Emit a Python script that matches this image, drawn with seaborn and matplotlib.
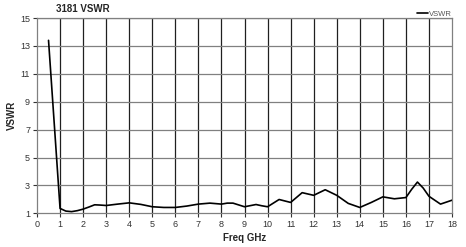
import matplotlib
matplotlib.use("Agg")
import matplotlib.pyplot as plt
import seaborn as sns
import pandas as pd

freq_ghz = [0.5, 1.0, 1.25, 1.5, 1.75, 2.0, 2.25, 2.5, 2.75, 3.0, 3.5, 4.0, 4.5, 5.0, 5.5,
            6.0, 6.5, 7.0, 7.5, 8.0, 8.25, 8.5, 9.0, 9.5, 9.75, 10.0, 10.5, 11.0, 11.5,
            12.0, 12.5, 13.0, 13.5, 14.0, 14.5, 15.0, 15.5, 16.0, 16.25, 16.5, 16.75,
            17.0, 17.5, 18.0]
vswr = [13.4, 1.35, 1.16, 1.12, 1.19, 1.3, 1.45, 1.61, 1.59, 1.56, 1.66, 1.75, 1.64, 1.47, 1.42,
        1.42, 1.52, 1.66, 1.73, 1.66, 1.73, 1.73, 1.47, 1.63, 1.54, 1.47, 1.99, 1.78, 2.48,
        2.29, 2.69, 2.29, 1.71, 1.42, 1.78, 2.18, 2.04, 2.13, 2.72, 3.24, 2.81,
        2.22, 1.66, 1.94]
x_ticks = list(range(0, 19))
y_ticks = [1, 3, 5, 7, 9, 11, 13, 15]

df = pd.DataFrame({"Freq GHz": freq_ghz, "VSWR": vswr})

sns.set_theme(style="white")
plt.rcParams['font.family'] = ['Liberation Sans', 'DejaVu Sans']

fig = plt.figure(figsize=(4.66, 2.47), dpi=100)
ax = fig.add_axes([0.0794, 0.1364, 0.8906, 0.7906])

for x in x_ticks[1:-1]:
    ax.axvline(x, color="#202020", lw=0.9, zorder=1)
for y in y_ticks[1:]:
    ax.axhline(y, color="#808080", lw=0.9, zorder=1)

sns.lineplot(data=df, x="Freq GHz", y="VSWR", ax=ax, color="black", lw=1.2,
             label="VSWR", zorder=3)

ax.set_xlim(0, 18)
ax.set_ylim(1, 15)
ax.set_xticks(x_ticks)
ax.set_yticks(y_ticks)
ax.tick_params(axis="both", labelsize=6.5, colors="#333333", length=3, width=0.8,
               direction="out", pad=2)
ax.tick_params(axis="both", which="both", bottom=True, left=True)
for s in ax.spines.values():
    s.set_color("#808080")
    s.set_linewidth(0.9)

ax.set_xlabel("Freq GHz", fontsize=7, fontweight="bold", labelpad=3)
ax.set_ylabel("VSWR", fontsize=7, fontweight="bold", labelpad=2)
ax.set_title("3181 VSWR", fontsize=7, fontweight="bold", loc="left", x=0.045, pad=4)

leg = ax.legend(loc="upper right", bbox_to_anchor=(1.0, 1.04), frameon=False,
                fontsize=5.5, handlelength=1.4, handletextpad=0.2, borderaxespad=0,
                borderpad=0)
for t in leg.get_texts():
    t.set_color("#555555")

fig.savefig("out.png", dpi=100)
